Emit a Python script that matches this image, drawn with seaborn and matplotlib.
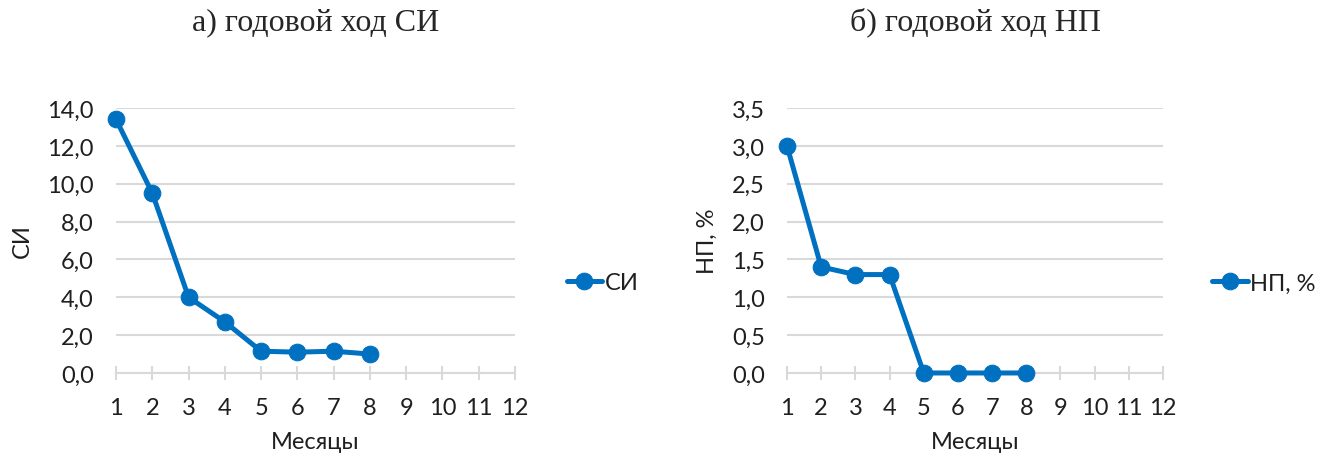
import matplotlib
matplotlib.use("Agg")
import matplotlib.pyplot as plt
import numpy as np
import pandas as pd
import seaborn as sns
from matplotlib.ticker import FuncFormatter

# data
months = [1, 2, 3, 4, 5, 6, 7, 8]
si_values = [13.4, 9.5, 4.0, 2.7, 1.15, 1.1, 1.15, 1.0]
np_values = [3.0, 1.4, 1.3, 1.3, 0.0, 0.0, 0.0, 0.0]
month_ticks = list(range(1, 13))

sns.set_style("white")
plt.rcParams['font.family'] = ['Lato', 'DejaVu Sans']

blue = "#0070C0"
grid_col = "#d9d9d9"
text_col = "#1f1f1f"

fig = plt.figure(figsize=(13.43, 4.6), dpi=100)
ax1 = fig.add_axes([0.0864, 0.187, 0.2971, 0.576])
ax2 = fig.add_axes([0.586, 0.187, 0.280, 0.576])

comma = FuncFormatter(lambda v, p: f"{v:.1f}".replace(".", ","))


def draw(ax, values, label, ymax, ystep, ylabel, title):
    df = pd.DataFrame({"Месяцы": months, label: values})
    sns.lineplot(data=df, x="Месяцы", y=label, ax=ax, color=blue, linewidth=3.6,
                 marker="o", markersize=12, markeredgecolor=blue, label=label,
                 zorder=3, clip_on=False)
    ax.set_xlim(1, 12)
    ax.set_ylim(0, ymax)
    ax.set_xticks(month_ticks)
    ax.set_yticks(np.arange(0, ymax + ystep / 2, ystep))
    ax.yaxis.set_major_formatter(comma)
    ax.grid(axis="y", color=grid_col, linewidth=1.5)
    ax.grid(axis="x", visible=False)
    for s in ["top", "right", "left"]:
        ax.spines[s].set_visible(False)
    ax.spines["bottom"].set_color(grid_col)
    ax.spines["bottom"].set_linewidth(1.5)
    ax.tick_params(axis="x", bottom=True, direction="inout", length=10, width=1.5,
                   color=grid_col, labelsize=17, pad=12, labelcolor=text_col)
    ax.tick_params(axis="y", left=False, length=0, labelsize=17, pad=16,
                   labelcolor=text_col)
    ax.set_xlabel("Месяцы", fontsize=17, color=text_col, labelpad=10)
    ax.set_ylabel(ylabel, fontsize=17, color=text_col, labelpad=10)
    ax.legend(loc="center left", bbox_to_anchor=(1.1, 0.34), frameon=False,
              fontsize=17, handlelength=1.5, handletextpad=0.1, borderpad=0,
              labelcolor=text_col)
    ax.set_title(title, fontsize=23, family="Liberation Serif", pad=57)


draw(ax1, si_values, "СИ", 14, 2, "СИ", "а) годовой ход СИ")
draw(ax2, np_values, "НП, %", 3.5, 0.5, "НП, %", "б) годовой ход НП")

fig.savefig("out.png", dpi=100, facecolor="white")
